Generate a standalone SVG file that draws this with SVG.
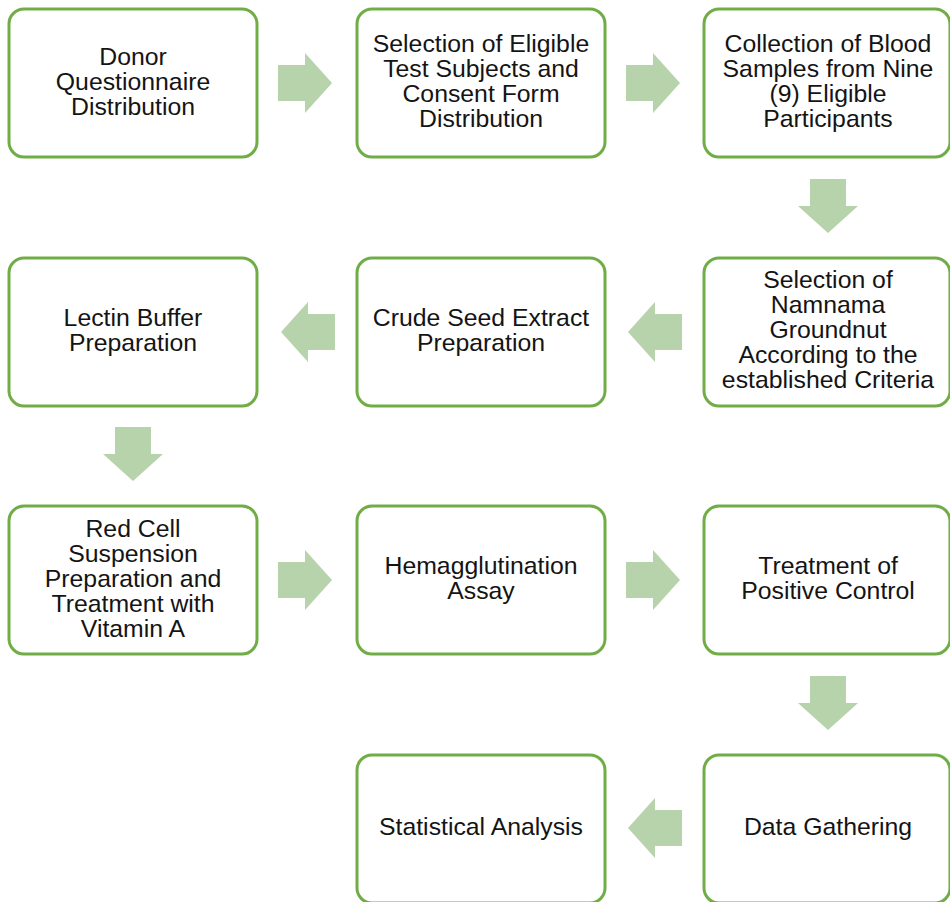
<svg xmlns="http://www.w3.org/2000/svg" width="950" height="902" viewBox="0 0 950 902">
<style>
.box{fill:#fff;stroke:#70ad47;stroke-width:3}
.arr{fill:#b7d3ab}
text{font-family:"Liberation Sans",Arial,sans-serif;font-size:24.8px;fill:#141414;text-anchor:middle}
</style>
<defs>
<path id="ar" d="M0,-18 H27 V-30 L54,0 L27,30 V18 H0 Z"/>
</defs>
<rect width="950" height="902" fill="#fff"/>
<g id="connectors">
<use href="#ar" class="arr" transform="translate(278,83)"/>
<use href="#ar" class="arr" transform="translate(626,83)"/>
<use href="#ar" class="arr" transform="translate(828,179) rotate(90)"/>
<use href="#ar" class="arr" transform="translate(682,332) rotate(180)"/>
<use href="#ar" class="arr" transform="translate(335,332) rotate(180)"/>
<use href="#ar" class="arr" transform="translate(133,427) rotate(90)"/>
<use href="#ar" class="arr" transform="translate(278,580)"/>
<use href="#ar" class="arr" transform="translate(626,580)"/>
<use href="#ar" class="arr" transform="translate(828,676) rotate(90)"/>
<use href="#ar" class="arr" transform="translate(682,828) rotate(180)"/>
</g>
<g id="n1"><rect class="box" x="9" y="9" width="248" height="148" rx="15"/>
<text x="133" y="65">Donor</text><text x="133" y="90">Questionnaire</text><text x="133" y="115">Distribution</text></g>
<g id="n2"><rect class="box" x="357" y="9" width="248" height="148" rx="15"/>
<text x="481" y="52">Selection of Eligible</text><text x="481" y="77">Test Subjects and</text><text x="481" y="102">Consent Form</text><text x="481" y="127">Distribution</text></g>
<g id="n3"><rect class="box" x="704" y="9" width="246" height="148" rx="15"/>
<text x="828" y="52">Collection of Blood</text><text x="828" y="77">Samples from Nine</text><text x="828" y="102">(9) Eligible</text><text x="828" y="127">Participants</text></g>
<g id="n4"><rect class="box" x="704" y="258" width="246" height="148" rx="15"/>
<text x="828" y="288">Selection of</text><text x="828" y="313">Namnama</text><text x="828" y="338">Groundnut</text><text x="828" y="363">According to the</text><text x="828" y="388">established Criteria</text></g>
<g id="n5"><rect class="box" x="357" y="258" width="248" height="148" rx="15"/>
<text x="481" y="326">Crude Seed Extract</text><text x="481" y="351">Preparation</text></g>
<g id="n6"><rect class="box" x="9" y="258" width="248" height="148" rx="15"/>
<text x="133" y="326">Lectin Buffer</text><text x="133" y="351">Preparation</text></g>
<g id="n7"><rect class="box" x="9" y="506" width="248" height="148" rx="15"/>
<text x="133" y="537">Red Cell</text><text x="133" y="562">Suspension</text><text x="133" y="587">Preparation and</text><text x="133" y="612">Treatment with</text><text x="133" y="637">Vitamin A</text></g>
<g id="n8"><rect class="box" x="357" y="506" width="248" height="148" rx="15"/>
<text x="481" y="574">Hemagglutination</text><text x="481" y="599">Assay</text></g>
<g id="n9"><rect class="box" x="704" y="506" width="246" height="148" rx="15"/>
<text x="828" y="574">Treatment of</text><text x="828" y="599">Positive Control</text></g>
<g id="n10"><rect class="box" x="704" y="755" width="246" height="148" rx="15"/>
<text x="828" y="835">Data Gathering</text></g>
<g id="n11"><rect class="box" x="357" y="755" width="248" height="148" rx="15"/>
<text x="481" y="835">Statistical Analysis</text></g>
</svg>
